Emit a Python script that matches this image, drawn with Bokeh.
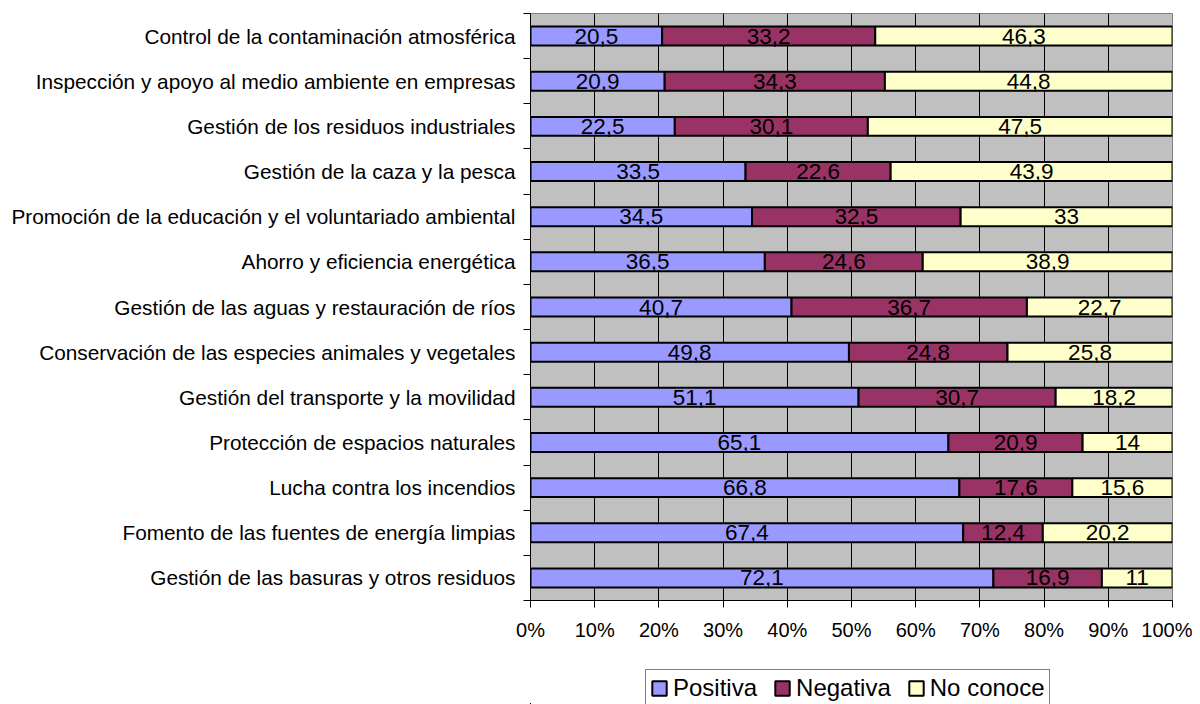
from bokeh.plotting import figure
from bokeh.layouts import column
from bokeh.models import ColumnDataSource, FixedTicker, Legend, LegendItem, Range1d
from bokeh.core.properties import value
from bokeh.embed import file_html
from bokeh.resources import INLINE

# ---- data (top to bottom as in the chart) ----
categories = [
    "Control de la contaminación atmosférica",
    "Inspección y apoyo al medio ambiente en empresas",
    "Gestión de los residuos industriales",
    "Gestión de la caza y la pesca",
    "Promoción de la educación y el voluntariado ambiental",
    "Ahorro y eficiencia energética",
    "Gestión de las aguas y restauración de ríos",
    "Conservación de las especies animales y vegetales",
    "Gestión del transporte y la movilidad",
    "Protección de espacios naturales",
    "Lucha contra los incendios",
    "Fomento de las fuentes de energía limpias",
    "Gestión de las basuras y otros residuos",
]
positiva = [20.5, 20.9, 22.5, 33.5, 34.5, 36.5, 40.7, 49.8, 51.1, 65.1, 66.8, 67.4, 72.1]
negativa = [33.2, 34.3, 30.1, 22.6, 32.5, 24.6, 36.7, 24.8, 30.7, 20.9, 17.6, 12.4, 16.9]
no_conoce = [46.3, 44.8, 47.5, 43.9, 33.0, 38.9, 22.7, 25.8, 18.2, 14.0, 15.6, 20.2, 11.0]
series_names = ["Positiva", "Negativa", "No conoce"]
series_colors = ["#9999FF", "#993366", "#FFFFCC"]
x_ticks = [0, 10, 20, 30, 40, 50, 60, 70, 80, 90, 100]
x_tick_labels = ["0%", "10%", "20%", "30%", "40%", "50%", "60%", "70%", "80%", "90%", "100%"]

FONT = "Liberation Sans"
n = len(categories)
ys = [n - 1 - i for i in range(n)]

# 100% stacked: normalise each row
totals = [a + b + c for a, b, c in zip(positiva, negativa, no_conoce)]
p_pos = [a / t * 100 for a, t in zip(positiva, totals)]
p_neg = [b / t * 100 for b, t in zip(negativa, totals)]
p_nc = [c / t * 100 for c, t in zip(no_conoce, totals)]

src = ColumnDataSource(dict(y=ys, pos=p_pos, neg=p_neg, nc=p_nc))

p = figure(width=1192, height=664, output_backend="svg", toolbar_location=None,
           x_range=Range1d(0, 100), y_range=Range1d(-0.5, n - 0.5))
p.min_border_left = 530
p.min_border_right = 20
p.min_border_top = 13
p.min_border_bottom = 64
p.background_fill_color = "#C0C0C0"
p.border_fill_color = "white"
p.outline_line_color = "#808080"
p.outline_line_width = 1

bar_style = dict(y="y", height=0.42, source=src, fill_color=series_colors,
                 line_color="black", line_width=2)
p.hbar_stack(["pos", "neg", "nc"], **bar_style)

# value labels
for key, vals, start_keys in [("pos", positiva, []), ("neg", negativa, ["pos"]), ("nc", no_conoce, ["pos", "neg"])]:
    col = src.data[key]
    starts = [sum(src.data[k][j] for k in start_keys) for j in range(n)]
    xs = [s + c / 2 for s, c in zip(starts, col)]
    labels = [f"{v:g}".replace(".", ",") for v in vals]
    p.text(x=xs, y=ys, text=labels, text_align="center", text_baseline="middle",
           text_font=value(FONT), text_font_size="22.5px", text_color="black")

# grid
p.ygrid.grid_line_color = None
p.xgrid.ticker = FixedTicker(ticks=x_ticks)
p.xgrid.grid_line_color = "black"
p.xgrid.grid_line_width = 1

# x axis
p.xaxis.ticker = FixedTicker(ticks=x_ticks)
p.xaxis.major_label_overrides = {t: l for t, l in zip(x_ticks, x_tick_labels)}
p.xaxis.major_tick_out = 7
p.xaxis.major_tick_in = 0
p.xaxis.minor_tick_out = 0
p.xaxis.axis_line_color = "black"
p.xaxis.major_tick_line_color = "black"
p.xaxis.major_label_standoff = 11
p.xaxis.major_label_text_font = FONT
p.xaxis.major_label_text_font_size = "20px"
p.xaxis.major_label_text_color = "black"

# y axis
p.yaxis.ticker = FixedTicker(ticks=ys, minor_ticks=[k - 0.5 for k in range(n + 1)])
p.yaxis.major_label_overrides = {y: c for y, c in zip(ys, categories)}
p.yaxis.major_tick_out = 0
p.yaxis.major_tick_in = 0
p.yaxis.minor_tick_out = 7
p.yaxis.minor_tick_in = 0
p.yaxis.minor_tick_line_color = "black"
p.yaxis.axis_line_color = "black"
p.yaxis.major_label_standoff = 8
p.yaxis.major_label_text_font = FONT
p.yaxis.major_label_text_font_size = "20.8px"
p.yaxis.major_label_text_color = "black"

# legend strip below the chart (own small figure; its bars lie outside its ranges)
leg = figure(width=1192, height=40, output_backend="svg", toolbar_location=None,
             x_range=Range1d(1000, 1001), y_range=Range1d(1000, 1001),
             x_axis_type=None, y_axis_type=None)
leg.min_border_left = 530
leg.min_border_right = 20
leg.min_border_top = 0
leg.min_border_bottom = 0
leg.outline_line_color = None
leg.background_fill_color = "white"
leg.border_fill_color = "white"
leg_renderers = leg.hbar_stack(["pos", "neg", "nc"], **bar_style)

legend = Legend(items=[LegendItem(label=nm, renderers=[r]) for nm, r in zip(series_names, leg_renderers)],
                location=(115, -3), orientation="horizontal",
                label_text_font=FONT, label_text_font_size="24px", label_text_color="black",
                label_height=26, glyph_width=18, glyph_height=18, label_standoff=5, spacing=16,
                padding=4, margin=0, border_line_color="black", border_line_width=1,
                background_fill_color="white", background_fill_alpha=1)
leg.add_layout(legend, "center")

layout = column(p, leg, spacing=0)
open("out.html", "w").write(file_html(layout, INLINE))
